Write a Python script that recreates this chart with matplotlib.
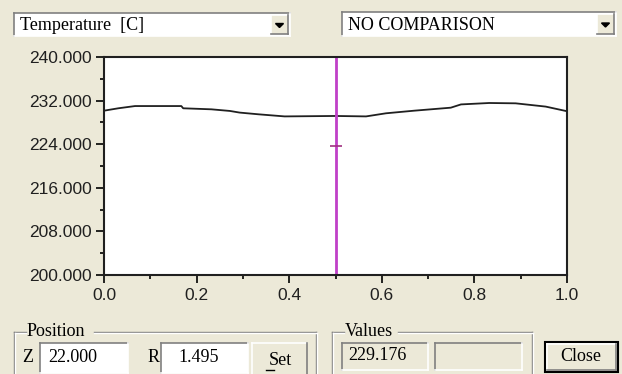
import matplotlib
matplotlib.use("Agg")
import matplotlib.pyplot as plt
from matplotlib.patches import Rectangle, Polygon
from matplotlib.transforms import Affine2D

# temperature profile along the normalised position
posicion = [0.0, 0.031, 0.067, 0.167, 0.171, 0.232, 0.272, 0.293, 0.333, 0.39,
            0.5, 0.566, 0.609, 0.67, 0.749, 0.771, 0.832, 0.889, 0.954, 1.0]
temperatura = [230.15, 230.59, 231.0, 231.0, 230.59, 230.4, 230.1, 229.8, 229.49, 229.1,
               229.18, 229.1, 229.67, 230.15, 230.7, 231.3, 231.56, 231.5, 230.9, 230.05]

cursor_x = 0.5
cursor_marca = 223.7

yticks = [200, 208, 216, 224, 232, 240]
xticks = [0.0, 0.2, 0.4, 0.6, 0.8, 1.0]

campo_var = "Temperature  [C]"
campo_comp = "NO COMPARISON"
pos_z = "22.000"
pos_r = "1.495"
valor = "229.176"

W, H = 622, 374
FONDO = "#ECE9D8"
OSCURO = "#808080"
CLARO = "#FFFFFF"

fig = plt.figure(figsize=(W / 100, H / 100), dpi=100, facecolor=FONDO)
# pixel coordinates from the top-left corner
px = Affine2D().scale(1 / W, -1 / H).translate(0, 1) + fig.transFigure


def linea(x0, y0, x1, y1, color, lw=1):
    fig.add_artist(plt.Line2D([x0, x1], [y0, y1], color=color, lw=lw, transform=px))


def caja(x0, y0, x1, y1, relleno, hundida=True):
    fig.add_artist(Rectangle((x0, y0), x1 - x0, y1 - y0, facecolor=relleno,
                             edgecolor="none", transform=px))
    c1, c2 = (OSCURO, CLARO) if hundida else (CLARO, OSCURO)
    linea(x0, y0, x1, y0, c1, 1.2)
    linea(x0, y0, x0, y1, c1, 1.2)
    linea(x0, y1, x1, y1, c2, 1.2)
    linea(x1, y0, x1, y1, c2, 1.2)


def texto(x, y, s, size=13, ha="left", color="black"):
    fig.text(x, y, s, transform=px, fontsize=size, ha=ha, va="center",
             family="Liberation Serif", color=color)


def combo(x0, y0, x1, y1, s):
    caja(x0, y0, x1, y1, "white")
    caja(x1 - 19, y0 + 2, x1 - 2, y1 - 2, FONDO, hundida=False)
    cx, cy = x1 - 10.5, (y0 + y1) / 2 + 1
    fig.add_artist(Polygon([(cx - 4, cy - 2), (cx + 4, cy - 2), (cx, cy + 2)],
                           closed=True, color="black", transform=px))
    texto(x0 + 6, (y0 + y1) / 2 + 1, s)


def grupo(x0, y0, x1, y1, titulo, ancho):
    for d, c in ((0, OSCURO), (1, CLARO)):
        linea(x0 + d, y0 + d, x0 + 12, y0 + d, c)
        linea(x0 + 14 + ancho, y0 + d, x1 + d, y0 + d, c)
        linea(x0 + d, y0 + d, x0 + d, y1, c)
        linea(x1 + d, y0 + d, x1 + d, y1, c)
    texto(x0 + 13, y0, titulo)


combo(14, 13, 290, 36, campo_var)
combo(342, 12, 616, 36, campo_comp)

ax = fig.add_axes([104 / W, 99 / H, 463 / W, 218 / H])
ax.set_facecolor("white")
ax.plot(posicion, temperatura, color="#202020", lw=1.3)
ax.axvline(cursor_x, color="#C040C8", lw=2)
ax.plot([cursor_x], [cursor_marca], marker="_", color="#A03080", ms=8, mew=1.2)
ax.set_xlim(0, 1)
ax.set_ylim(200, 240)
ax.set_xticks(xticks)
ax.set_xticklabels([f"{v:.1f}" for v in xticks])
ax.set_xticks([0.1, 0.3, 0.5, 0.7, 0.9], minor=True)
ax.set_yticks(yticks)
ax.set_yticklabels([f"{v:.3f}" for v in yticks])
ax.set_yticks([204, 212, 220, 228, 236], minor=True)
ax.tick_params(which="major", direction="out", length=6, width=1.2, labelsize=12.5, pad=3)
ax.tick_params(which="minor", direction="out", length=3, width=1.2)
for lab in ax.get_xticklabels() + ax.get_yticklabels():
    lab.set_family("Liberation Sans")
    lab.set_color("#202020")
for s in ax.spines.values():
    s.set_linewidth(1.5)
    s.set_color("#202020")

grupo(14, 332, 316, 380, "Position", 66)
texto(22, 358, "Z")
caja(40, 343, 128, 373, "white")
texto(48, 358, pos_z)
texto(148, 358, "R")
caja(161, 343, 248, 373, "white")
texto(178, 358, pos_r)
caja(252, 343, 307, 376, FONDO, hundida=False)
texto(280, 361, "Set", ha="center")
linea(266, 370, 274, 370, "black")

grupo(332, 332, 532, 380, "Values", 52)
caja(342, 343, 428, 370, FONDO)
texto(348, 356, valor)
caja(435, 343, 522, 370, FONDO)

fig.add_artist(Rectangle((545, 342), 73, 30, facecolor=FONDO, edgecolor="black",
                         lw=1.5, transform=px))
caja(547, 344, 616, 370, FONDO, hundida=False)
texto(581, 357, "Close", ha="center")

fig.savefig("out.png", dpi=100, facecolor=FONDO)
